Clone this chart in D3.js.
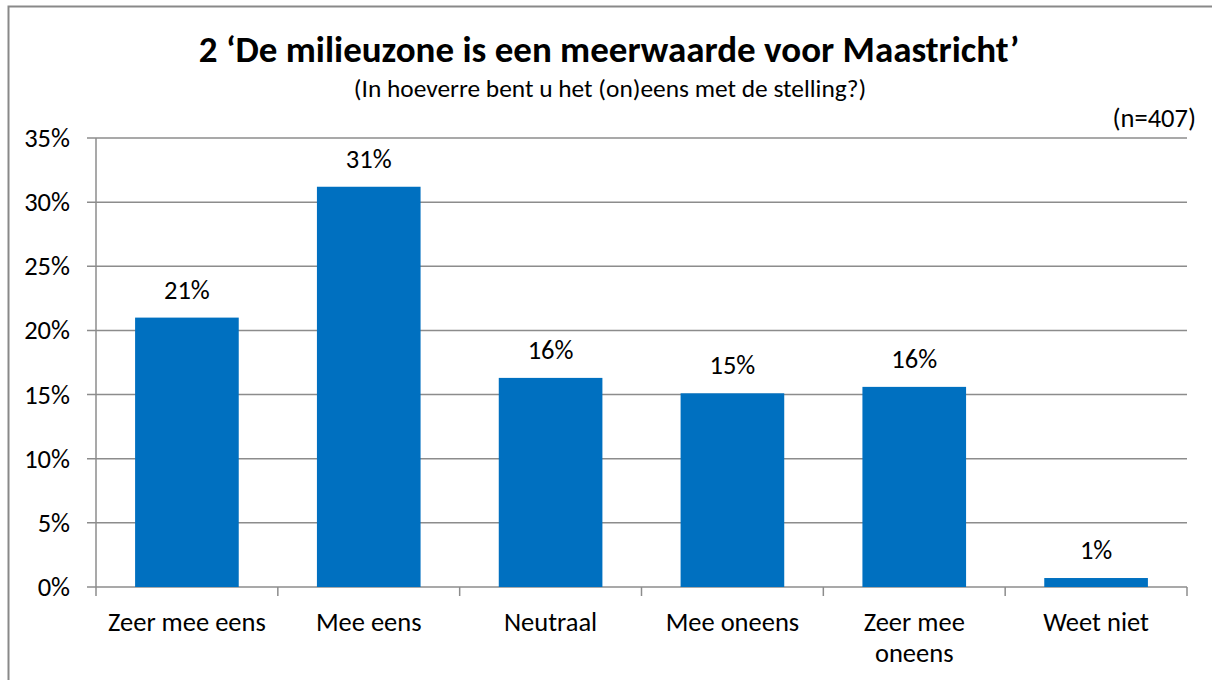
<!DOCTYPE html>
<html>
<head>
<meta charset="utf-8">
<script src="https://cdn.jsdelivr.net/npm/d3@7"></script>
<style>
  body { margin: 0; background: white; }
  svg { display: block; font-family: Carlito, Calibri, Lato, sans-serif; }
</style>
</head>
<body>
<div id="chart"></div>
<script>
// Data
const categories = ["Zeer mee eens", "Mee eens", "Neutraal", "Mee oneens", "Zeer mee oneens", "Weet niet"];
const values = [21.0, 31.2, 16.3, 15.1, 15.6, 0.7];
const valueLabels = ["21%", "31%", "16%", "15%", "16%", "1%"];
const yTicks = [0, 5, 10, 15, 20, 25, 30, 35];

const width = 1212;
const height = 680;
const plotLeft = 96, plotRight = 1187, plotTop = 138, plotBottom = 587;
const labelSize = "26.5px";

const svg = d3.select("#chart").append("svg")
  .attr("width", width)
  .attr("height", height);

// chart frame
svg.append("rect")
  .attr("x", 8.5).attr("y", 6.5)
  .attr("width", 1230).attr("height", 700)
  .attr("fill", "white")
  .attr("stroke", "#898989")
  .attr("stroke-width", 2);

// Scales
const x = d3.scaleBand()
  .domain(categories)
  .range([plotLeft, plotRight])
  .paddingInner(0.43)
  .paddingOuter(0.215);

const y = d3.scaleLinear()
  .domain([0, 35])
  .range([plotBottom, plotTop]);

// gridlines
svg.append("g")
  .selectAll("line")
  .data(yTicks)
  .enter().append("line")
  .attr("x1", plotLeft - 9)
  .attr("x2", plotRight)
  .attr("y1", d => y(d))
  .attr("y2", d => y(d))
  .attr("stroke", "#8c8c8c")
  .attr("stroke-width", 1.5);

// y axis line
svg.append("line")
  .attr("x1", plotLeft).attr("x2", plotLeft)
  .attr("y1", plotTop).attr("y2", plotBottom)
  .attr("stroke", "#8c8c8c")
  .attr("stroke-width", 1.5);

// y tick labels
svg.append("g")
  .selectAll("text")
  .data(yTicks)
  .enter().append("text")
  .attr("x", 70)
  .attr("y", d => y(d))
  .attr("dy", "0.34em")
  .attr("text-anchor", "end")
  .attr("font-size", labelSize)
  .attr("fill", "#000")
  .text(d => d + "%");

// x tick marks at category boundaries
const step = x.step();
const bounds = d3.range(categories.length + 1).map(i => plotLeft + i * step);
svg.append("g")
  .selectAll("line")
  .data(bounds)
  .enter().append("line")
  .attr("x1", d => d).attr("x2", d => d)
  .attr("y1", plotBottom).attr("y2", plotBottom + 9)
  .attr("stroke", "#8c8c8c")
  .attr("stroke-width", 1.5);

// bars
svg.append("g")
  .selectAll("rect")
  .data(values)
  .enter().append("rect")
  .attr("x", (d, i) => x(categories[i]))
  .attr("y", d => y(d))
  .attr("width", x.bandwidth())
  .attr("height", d => y(0) - y(d))
  .attr("fill", "#0070C0");

// value labels
svg.append("g")
  .selectAll("text")
  .data(values)
  .enter().append("text")
  .attr("x", (d, i) => x(categories[i]) + x.bandwidth() / 2)
  .attr("y", d => y(d) - 19)
  .attr("text-anchor", "middle")
  .attr("font-size", labelSize)
  .attr("fill", "#000")
  .text((d, i) => valueLabels[i]);

// category labels (wrap long ones)
const catLines = {"Zeer mee oneens": ["Zeer mee", "oneens"]};
categories.forEach(c => {
  const lines = catLines[c] || [c];
  const t = svg.append("text")
    .attr("x", x(c) + x.bandwidth() / 2)
    .attr("y", 631)
    .attr("text-anchor", "middle")
    .attr("font-size", labelSize)
    .attr("fill", "#000");
  lines.forEach((l, i) => {
    t.append("tspan")
      .attr("x", x(c) + x.bandwidth() / 2)
      .attr("dy", i === 0 ? 0 : 31)
      .text(l);
  });
});

// titles
svg.append("text")
  .attr("x", 609).attr("y", 62)
  .attr("text-anchor", "middle")
  .attr("font-size", "37px")
  .attr("font-weight", "bold")
  .attr("fill", "#000")
  .text("2 \u2018De milieuzone is een meerwaarde voor Maastricht\u2019");

svg.append("text")
  .attr("x", 610).attr("y", 97)
  .attr("text-anchor", "middle")
  .attr("font-size", "25.4px")
  .attr("fill", "#000")
  .text("(In hoeverre bent u het (on)eens met de stelling?)");

svg.append("text")
  .attr("x", 1196).attr("y", 127)
  .attr("text-anchor", "end")
  .attr("font-size", labelSize)
  .attr("fill", "#000")
  .text("(n=407)");
</script>
</body>
</html>
